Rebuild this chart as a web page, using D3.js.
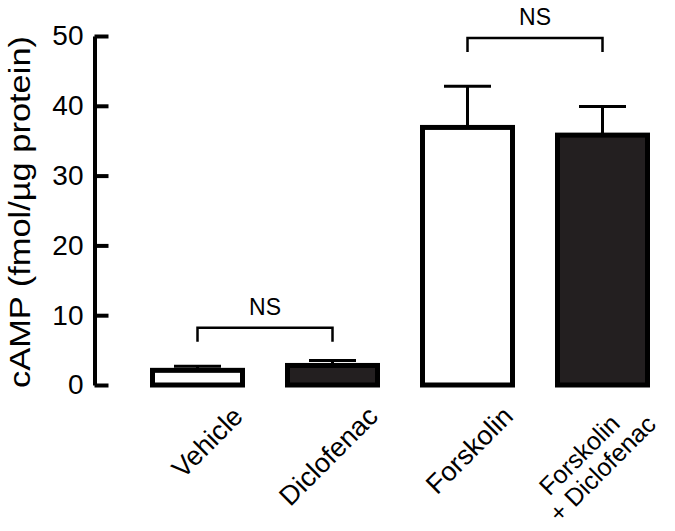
<!DOCTYPE html>
<meta charset="utf-8">
<script src="https://d3js.org/d3.v7.min.js"></script>
<style>
  body { margin: 0; background: #fff; }
  text { font-family: "Liberation Sans", Arial, Helvetica, sans-serif; fill: #000; }
</style>
<svg id="chart"></svg>
<script>
// data
var groups = ["Vehicle", "Diclofenac", "Forskolin", "Forskolin + Diclofenac"];
var labelLines = [["Vehicle"], ["Diclofenac"], ["Forskolin"], ["Forskolin", "+ Diclofenac"]];
var means = [2.1, 2.8, 36.9, 35.8];
var errors = [0.6, 0.7, 5.9, 4.1];
var fills = ["#fff", "#231f20", "#fff", "#231f20"];
var yTicks = [0, 10, 20, 30, 40, 50];
// NS comparisons: [from, to, height]
var comparisons = [[0, 1, 8.2], [2, 3, 49.7]];

var width = 675, height = 531;
var svg = d3.select("#chart").attr("width", width).attr("height", height);

var x = d3.scaleBand()
    .domain(groups)
    .range([130, 670])
    .paddingInner(1 / 3)
    .paddingOuter(1 / 6);

var y = d3.scaleLinear().domain([0, 50]).range([385, 36]);

var axisX = 94.5;

// y axis, ticks point into the plot
var yAxis = svg.append("g")
    .attr("transform", "translate(" + axisX + ",0)")
    .call(d3.axisLeft(y).tickValues(yTicks).tickSizeInner(-14).tickSizeOuter(0).tickPadding(11));
yAxis.select(".domain").attr("stroke-width", 4).attr("stroke", "#000");
yAxis.selectAll(".tick line").attr("stroke-width", 4).attr("stroke", "#000");
yAxis.selectAll(".tick text")
    .attr("font-size", 28)
    .attr("font-family", "Liberation Sans, Arial, sans-serif")
    .attr("fill", "#000");

// axis title
svg.append("text")
    .attr("transform", "translate(30,212) rotate(-90)")
    .attr("text-anchor", "middle")
    .attr("font-size", 30)
    .attr("textLength", 352)
    .attr("lengthAdjust", "spacingAndGlyphs")
    .text("cAMP (fmol/\u00b5g protein)");

// error bars (upper only)
var eb = svg.append("g").attr("stroke", "#000").attr("stroke-width", 3);
groups.forEach(function(g, i) {
    var cx = x(g) + x.bandwidth() / 2;
    eb.append("line")
        .attr("x1", cx).attr("x2", cx)
        .attr("y1", y(means[i])).attr("y2", y(means[i] + errors[i]));
    eb.append("line")
        .attr("x1", cx - 23.5).attr("x2", cx + 23.5)
        .attr("y1", y(means[i] + errors[i])).attr("y2", y(means[i] + errors[i]));
});

// bars
svg.append("g")
    .selectAll("rect")
    .data(groups)
    .enter().append("rect")
    .attr("x", function(d) { return x(d); })
    .attr("y", function(d, i) { return y(means[i]); })
    .attr("width", x.bandwidth())
    .attr("height", function(d, i) { return y(0) - y(means[i]); })
    .attr("fill", function(d, i) { return fills[i]; })
    .attr("stroke", "#000")
    .attr("stroke-width", 5);

// NS brackets
comparisons.forEach(function(c) {
    var x1 = x(groups[c[0]]) + x.bandwidth() / 2;
    var x2 = x(groups[c[1]]) + x.bandwidth() / 2;
    var yy = y(c[2]);
    svg.append("path")
        .attr("d", "M" + x1 + "," + (yy + 14) + "V" + yy + "H" + x2 + "V" + (yy + 14))
        .attr("fill", "none")
        .attr("stroke", "#000")
        .attr("stroke-width", 2.5);
    svg.append("text")
        .attr("x", (x1 + x2) / 2)
        .attr("y", yy - 13)
        .attr("text-anchor", "middle")
        .attr("font-size", 23)
        .text("NS");
});

// category labels, rotated 45deg, right end under the bar
groups.forEach(function(g, i) {
    var cx = x(g) + x.bandwidth() / 2;
    var lines = labelLines[i];
    var t = svg.append("text")
        .attr("transform", "translate(" + (cx + 47) + ",418) rotate(-45)")
        .attr("text-anchor", "end")
        .attr("font-size", lines.length === 1 ? 27 : 25);
    if (lines.length === 1) {
        t.text(lines[0]);
    } else {
        t.append("tspan").attr("x", -25).attr("y", -15).text(lines[0]);
        t.append("tspan").attr("x", 0).attr("y", 11).text(lines[1]);
    }
});
</script>
